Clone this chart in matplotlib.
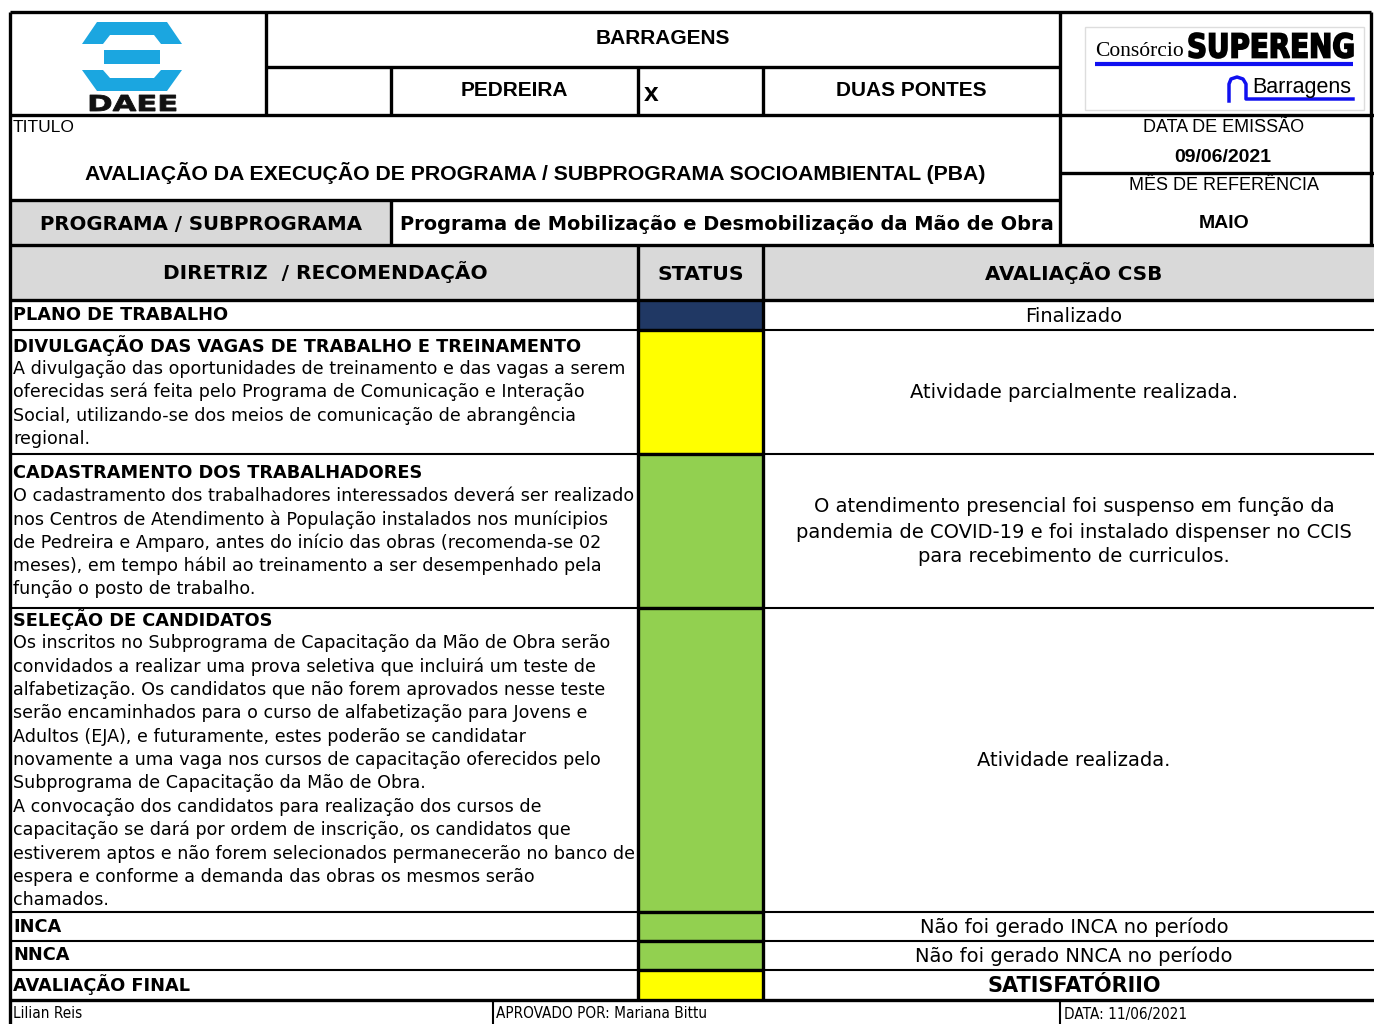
import matplotlib.pyplot as plt
from matplotlib.patches import Polygon, Rectangle, PathPatch
from matplotlib.textpath import TextPath
from matplotlib.font_manager import FontProperties
from matplotlib.transforms import Affine2D

# --- content ---
title_top = "BARRAGENS"
dam_left = "PEDREIRA"
dam_right = "DUAS PONTES"
report_title = "AVALIAÇÃO DA EXECUÇÃO DE PROGRAMA / SUBPROGRAMA SOCIOAMBIENTAL (PBA)"
issue_date = "09/06/2021"
ref_month = "MAIO"
program_name = "Programa de Mobilização e Desmobilização da Mão de Obra"
col_headers = ["DIRETRIZ  / RECOMENDAÇÃO", "STATUS", "AVALIAÇÃO CSB"]

row_titles = [
    "PLANO DE TRABALHO",
    "DIVULGAÇÃO DAS VAGAS DE TRABALHO E TREINAMENTO",
    "CADASTRAMENTO DOS TRABALHADORES",
    "SELEÇÃO DE CANDIDATOS",
    "INCA",
    "NNCA",
    "AVALIAÇÃO FINAL",
]
row_body = [
    [],
    ["A divulgação das oportunidades de treinamento e das vagas a serem",
     "oferecidas será feita pelo Programa de Comunicação e Interação",
     "Social, utilizando-se dos meios de comunicação de abrangência",
     "regional."],
    ["O cadastramento dos trabalhadores interessados deverá ser realizado",
     "nos Centros de Atendimento à População instalados nos munícipios",
     "de Pedreira e Amparo, antes do início das obras (recomenda-se 02",
     "meses), em tempo hábil ao treinamento a ser desempenhado pela",
     "função o posto de trabalho."],
    ["Os inscritos no Subprograma de Capacitação da Mão de Obra serão",
     "convidados a realizar uma prova seletiva que incluirá um teste de",
     "alfabetização. Os candidatos que não forem aprovados nesse teste",
     "serão encaminhados para o curso de alfabetização para Jovens e",
     "Adultos (EJA), e futuramente, estes poderão se candidatar",
     "novamente a uma vaga nos cursos de capacitação oferecidos pelo",
     "Subprograma de Capacitação da Mão de Obra.",
     "A convocação dos candidatos para realização dos cursos de",
     "capacitação se dará por ordem de inscrição, os candidatos que",
     "estiverem aptos e não forem selecionados permanecerão no banco de",
     "espera e conforme a demanda das obras os mesmos serão",
     "chamados."],
    [],
    [],
    [],
]
row_eval = [
    ["Finalizado"],
    ["Atividade parcialmente realizada."],
    ["O atendimento presencial foi suspenso em função da",
     "pandemia de COVID-19 e foi instalado dispenser no CCIS",
     "para recebimento de curriculos."],
    ["Atividade realizada."],
    ["Não foi gerado INCA no período"],
    ["Não foi gerado NNCA no período"],
    ["SATISFATÓRIIO"],
]
row_status = ["navy", "yellow", "green", "green", "green", "green", "yellow"]
footer = ["Lilian Reis", "APROVADO POR: Mariana Bittu", "DATA: 11/06/2021"]

status_colors = {"navy": "#203864", "yellow": "#FFFF00", "green": "#92D050"}

# --- layout (pixels) ---
W, H = 1374, 1024
XL, XR = 10, 1374
XH1, XH2, XH3 = 266, 391, 1060
XS0, XS1 = 638, 763
XF = 493
row_edges = [300, 330, 454, 608, 912, 941, 970, 1000]
GREY = "#D9D9D9"
THICK = 2.4
THIN = 1.5
ARIAL = "Liberation Sans"
VERD = "DejaVu Sans"

fig = plt.figure(figsize=(W / 100, H / 100), dpi=100)
ax = fig.add_axes([0, 0, 1, 1])
ax.set_xlim(0, W)
ax.set_ylim(H, 0)
ax.axis("off")


def hline(y, x0, x1, lw=THICK):
    ax.plot([x0, x1], [y, y], color="black", lw=lw, solid_capstyle="butt")


def vline(x, y0, y1, lw=THICK):
    ax.plot([x, x], [y0, y1], color="black", lw=lw, solid_capstyle="butt")


def fit_text(s, x0, y0, x1, y1, family, weight, color, ew=0):
    tp = TextPath((0, 0), s, size=100,
                  prop=FontProperties(family=family, weight=weight))
    bb = tp.get_extents()
    tr = (Affine2D().translate(-bb.x0, -bb.y0)
          .scale((x1 - x0) / bb.width, -(y1 - y0) / bb.height)
          .translate(x0, y1) + ax.transData)
    ax.add_patch(PathPatch(tp, transform=tr, fc=color, ec=color, lw=ew))


# grey fills
ax.add_patch(Rectangle((XL, 200), XH2 - XL, 45, color=GREY, lw=0))
ax.add_patch(Rectangle((XL, 245), XR - XL, 55, color=GREY, lw=0))

# status cells
tops = row_edges[:-1]
heights = [b - t for t, b in zip(row_edges[:-1], row_edges[1:])]
ax.bar([(XS0 + XS1) / 2] * len(tops), heights, bottom=tops, width=XS1 - XS0,
       color=[status_colors[s] for s in row_status], lw=0)

# grid
hline(12, XL, 1371)
vline(1371, 12, 245)
vline(XL, 12, H)
vline(XH1, 12, 115)
hline(67, XH1, XH3)
for x in (XH2, XS0, XS1):
    vline(x, 67, 115)
vline(XH3, 12, 245)
hline(115, XL, XR)
hline(200, XL, XH3)
hline(173, XH3, XR)
vline(XH2, 200, 245)
hline(245, XL, XR)
hline(300, XL, XR)
vline(XS0, 245, 1000)
vline(XS1, 245, 1000)
for y in row_edges[1:-1]:
    hline(y, XL, XR, THIN)
    hline(y, XS0, XS1, THICK)
hline(1000, XL, XR)
vline(XF, 1000, H, THIN)
vline(XH3, 1000, H, THIN)

# header texts
ax.text((XH1 + XH3) / 2, 39, title_top, ha="center", va="center",
        family=ARIAL, weight="bold", fontsize=15)
ax.text((XH2 + XS0) / 2, 91, dam_left, ha="center", va="center",
        family=ARIAL, weight="bold", fontsize=15)
ax.text(644, 94, "x", ha="left", va="center",
        family=ARIAL, weight="bold", fontsize=19)
ax.text((XS1 + XH3) / 2, 91, dam_right, ha="center", va="center",
        family=ARIAL, weight="bold", fontsize=15)
ax.text(13, 128, "TITULO", ha="left", va="center", family=ARIAL, fontsize=12.5)
ax.text(535, 173, report_title, ha="center", va="center",
        family=ARIAL, weight="bold", fontsize=15.3)
ax.text(1224, 128, "DATA DE EMISSÃO", ha="center", va="center",
        family=ARIAL, fontsize=13)
ax.text(1223, 158, issue_date, ha="center", va="center",
        family=ARIAL, weight="bold", fontsize=14)
ax.text(1224, 186, "MÊS DE REFERÊNCIA", ha="center", va="center",
        family=ARIAL, fontsize=13)
ax.text(1224, 223, ref_month, ha="center", va="center",
        family=ARIAL, weight="bold", fontsize=14)

ax.text(201, 224, "PROGRAMA / SUBPROGRAMA", ha="center", va="center",
        family=VERD, weight="bold", fontsize=14.2)
ax.text(400, 224, program_name, ha="left", va="center",
        family=VERD, weight="bold", fontsize=13.95)
ax.text(325, 272, col_headers[0], ha="center", va="center",
        family=VERD, weight="bold", fontsize=14.5)
ax.text(701, 274, col_headers[1], ha="center", va="center",
        family=VERD, weight="bold", fontsize=14.7)
ax.text(1074, 273, col_headers[2], ha="center", va="center",
        family=VERD, weight="bold", fontsize=14.3)

# body rows
PITCH = 23.4
for i, (t, body, ev) in enumerate(zip(row_titles, row_body, row_eval)):
    mid = (row_edges[i] + row_edges[i + 1]) / 2
    lines = [t] + body
    y0 = mid - PITCH * (len(lines) - 1) / 2
    for k, s in enumerate(lines):
        ax.text(13, y0 + k * PITCH, s, ha="left", va="center", family=VERD,
                weight="bold" if k == 0 else "normal",
                fontsize=12.8 if k == 0 else 12.6)
    last = i == len(row_titles) - 1
    ep = 25
    e0 = mid + 1 - ep * (len(ev) - 1) / 2
    for k, s in enumerate(ev):
        ax.text(1074, e0 + k * ep, s, ha="center", va="center", family=VERD,
                weight="bold" if last else "normal",
                fontsize=15 if last else 14)

# footer
for x, s in zip([13, XF + 3, XH3 + 4], footer):
    ax.text(x, 1014, s, ha="left", va="center", family=VERD,
            fontstretch="condensed", fontsize=11)

# DAEE logo
BLUE = "#1BA6E0"
ax.add_patch(Polygon([(97, 22), (167, 22), (182, 44), (82, 44)], color=BLUE, lw=0))
ax.add_patch(Polygon([(110, 35), (154, 35), (161, 44), (103, 44)], color="white", lw=0))
ax.add_patch(Rectangle((104, 50), 56, 14, color=BLUE, lw=0))
ax.add_patch(Polygon([(82, 70), (182, 70), (167, 91), (97, 91)], color=BLUE, lw=0))
ax.add_patch(Polygon([(103, 70), (161, 70), (154, 78), (110, 78)], color="white", lw=0))
fit_text("DAEE", 90, 95, 176, 111, "DejaVu Sans", "bold", "#111111", 0.6)

# SUPERENG logo
ax.add_patch(Rectangle((1085, 27), 279, 83, fill=False, ec="#DDDDDD", lw=1))
ax.text(1095, 56, "Consórcio", ha="left", va="baseline",
        family="Liberation Serif", fontsize=15.5)
fit_text("SUPERENG", 1189, 33, 1353, 58, "DejaVu Sans", "bold", "black", 1.2)
ax.plot([1095, 1353], [64, 64], color="#1010F0", lw=3, solid_capstyle="butt")
ax.plot([1229, 1229, 1231, 1237, 1243, 1246, 1246, 1353],
        [101, 84, 79, 77, 79, 84, 99, 99], color="#1010F0", lw=2.5)
ax.text(1252, 87, "Barragens", ha="left", va="center", family=ARIAL, fontsize=15.5)

fig.savefig("out.png", dpi=100)
